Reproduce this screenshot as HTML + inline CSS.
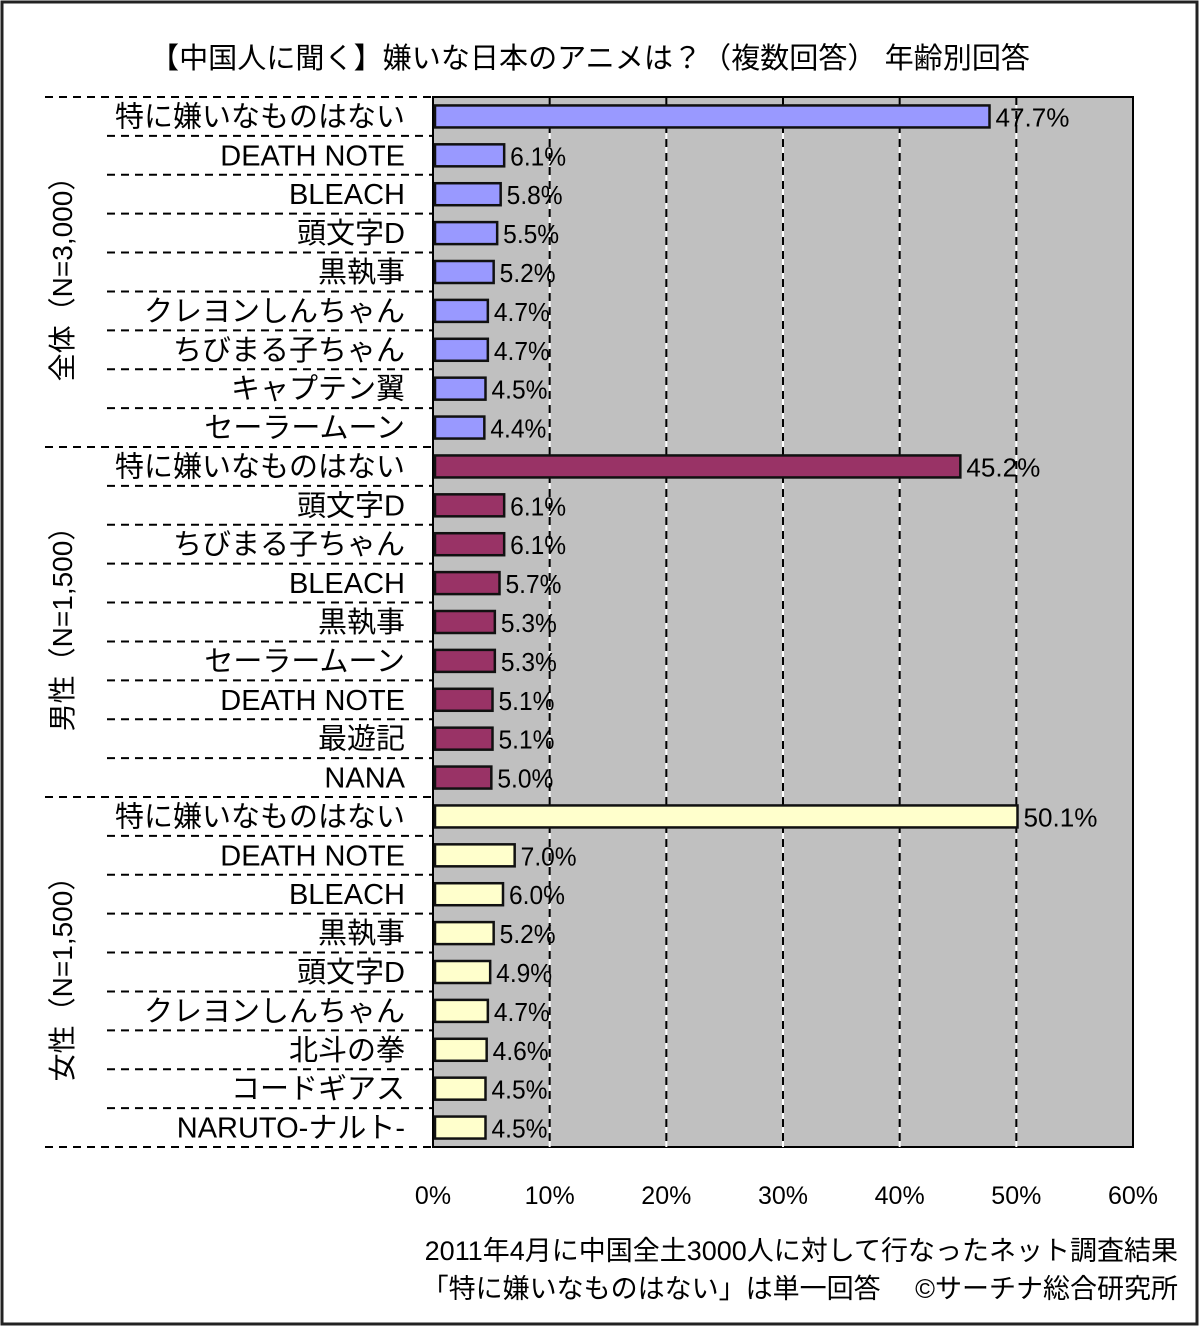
<!DOCTYPE html>
<html><head><meta charset="utf-8">
<style>
html,body{margin:0;padding:0;background:#fff}
body{width:1200px;height:1327px;overflow:hidden;font-family:"Liberation Sans","Noto Sans CJK JP",sans-serif}
</style></head>
<body>
<svg id="chart" width="1200" height="1327" xmlns="http://www.w3.org/2000/svg" font-family="'Liberation Sans','Noto Sans CJK JP',sans-serif">
<rect x="2" y="2" width="1195" height="1322" fill="#fff" stroke="#222" stroke-width="3"/>
<text x="590" y="68" font-size="29" text-anchor="middle" fill="#000" textLength="880" lengthAdjust="spacingAndGlyphs">【中国人に聞く】嫌いな日本のアニメは？（複数回答） 年齢別回答</text>
<g id="plot"></g>
<text x="1178" y="1260" font-size="27" text-anchor="end" fill="#000">2011年4月に中国全土3000人に対して行なったネット調査結果</text>
<text x="1178" y="1298" font-size="27" text-anchor="end" fill="#000">「特に嫌いなものはない」は単一回答　 ©サーチナ総合研究所</text>
</svg>
<script>
const groupNames = ["全体（N=3,000）","男性（N=1,500）","女性（N=1,500）"];
const categories1 = ["特に嫌いなものはない","DEATH NOTE","BLEACH","頭文字D","黒執事","クレヨンしんちゃん","ちびまる子ちゃん","キャプテン翼","セーラームーン"];
const values1 = [47.7,6.1,5.8,5.5,5.2,4.7,4.7,4.5,4.4];
const categories2 = ["特に嫌いなものはない","頭文字D","ちびまる子ちゃん","BLEACH","黒執事","セーラームーン","DEATH NOTE","最遊記","NANA"];
const values2 = [45.2,6.1,6.1,5.7,5.3,5.3,5.1,5.1,5.0];
const categories3 = ["特に嫌いなものはない","DEATH NOTE","BLEACH","黒執事","頭文字D","クレヨンしんちゃん","北斗の拳","コードギアス","NARUTO-ナルト-"];
const values3 = [50.1,7.0,6.0,5.2,4.9,4.7,4.6,4.5,4.5];
const tickValues = [0,10,20,30,40,50,60];
const groupColors = ["#9999ff","#993366","#ffffcc"];

const NS="http://www.w3.org/2000/svg";
const g=document.getElementById('plot');
const X0=433,X1=1133,Y0=97,Y1=1147,XMAX=60;
const cats=[categories1,categories2,categories3], vals=[values1,values2,values3];
const nRows=cats.reduce((a,c)=>a+c.length,0);
const rowH=(Y1-Y0)/nRows;
const xs=v=>X0+(v/XMAX)*(X1-X0);
function mk(tag,attrs){const e=document.createElementNS(NS,tag);for(const k in attrs)e.setAttribute(k,attrs[k]);g.appendChild(e);return e;}

let bg=mk('rect',{x:X0,y:Y0,width:X1-X0,height:Y1-Y0,fill:'#c0c0c0',stroke:'#000','stroke-width':2});


tickValues.forEach((t,i)=>{
  const x=xs(t);
  if(t>0&&t<XMAX){
    const l=mk('line',{x1:x,y1:Y0,x2:x,y2:Y1,stroke:'#000','stroke-width':2,'stroke-dasharray':'8,6'});
    
    
    const l2=mk('line',{x1:x,y1:Y0,x2:x,y2:Y1,stroke:'#fff','stroke-width':2,'stroke-dasharray':'6,8','stroke-dashoffset':'-8'});
    
    
  }
  const tx=mk('text',{x:x,y:1204,'font-size':25,'text-anchor':'middle',fill:'#000'});
  tx.textContent=t+'%';
  
  
});
let row=0;
cats.forEach((cs,gi)=>{
  const gTop=Y0+row*rowH;
  const gl=mk('line',{x1:45,y1:gTop,x2:X0,y2:gTop,stroke:'#000','stroke-width':2,'stroke-dasharray':'8,6'});
  
  
  const cy=gTop+cs.length*rowH/2;
  const gt=mk('text',{x:0,y:0,'font-size':28,'text-anchor':'middle',transform:`translate(72,${cy}) rotate(-90)`,fill:'#000'});
  gt.textContent=groupNames[gi];
  
  
  cs.forEach((c,i)=>{
    const y=Y0+row*rowH, mid=y+rowH/2;
    if(i>0){
      const sl=mk('line',{x1:107,y1:y,x2:X0,y2:y,stroke:'#000','stroke-width':2,'stroke-dasharray':'8,6'});
      
      
    }
    const lt=mk('text',{x:405,y:mid+10,'font-size':29,'text-anchor':'end',fill:'#000'});
    lt.textContent=c;
    
    
    const v=vals[gi][i];
    const b=mk('rect',{x:X0+2,y:mid-11,width:xs(v)-X0-2,height:22,fill:groupColors[gi],stroke:'#111','stroke-width':2.5});
    
    
    const vt=mk('text',{x:xs(v)+6,y:mid+10,'font-size':26,'text-anchor':'start',fill:'#000',textLength:(v>=10?74:56),lengthAdjust:'spacingAndGlyphs'});
    vt.textContent=v.toFixed(1)+'%';
    
    
    row++;
  });
});
const bl=mk('line',{x1:45,y1:Y1,x2:X0,y2:Y1,stroke:'#000','stroke-width':2,'stroke-dasharray':'8,6'});


</script>
</body></html>
